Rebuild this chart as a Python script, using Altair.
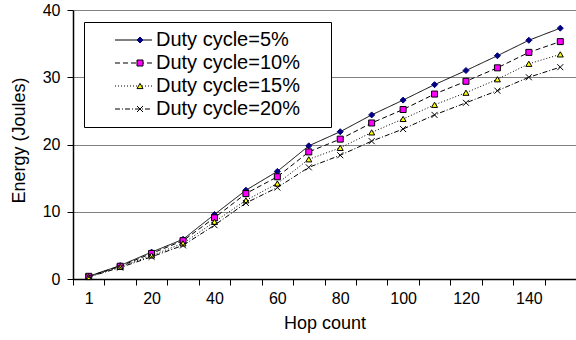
import altair as alt
import pandas as pd

hops = ["1", "10", "20", "30", "40", "50", "60", "70", "80", "90",
        "100", "110", "120", "130", "140", "150"]
x_tick_labels = ["1", "20", "40", "60", "80", "100", "120", "140"]
series = ["Duty cycle=5%", "Duty cycle=10%", "Duty cycle=15%", "Duty cycle=20%"]

dc5 = [0.4, 2.0, 4.0, 5.9, 9.6, 13.2, 16.0, 19.8, 21.9, 24.4, 26.6, 28.9, 31.0, 33.2, 35.5, 37.3]
dc10 = [0.4, 1.9, 3.8, 5.7, 9.1, 12.7, 15.2, 18.9, 20.8, 23.2, 25.2, 27.5, 29.4, 31.4, 33.7, 35.3]
dc15 = [0.3, 1.8, 3.5, 5.3, 8.5, 11.7, 14.2, 17.8, 19.5, 21.8, 23.8, 25.9, 27.7, 29.7, 32.0, 33.4]
dc20 = [0.3, 1.7, 3.3, 5.0, 8.0, 11.3, 13.6, 16.6, 18.4, 20.5, 22.3, 24.4, 26.2, 28.0, 30.0, 31.5]

y_ticks = [0, 10, 20, 30, 40]

marker_shapes = ["diamond", "square", "triangle-up", "M-1,-1L1,1M-1,1L1,-1"]
marker_fills = ["#000080", "#FF00FF", "#FFFF00", "#000000"]
marker_strokes = ["#000080", "#000000", "#000000", "#000000"]
line_dashes = [[1, 0], [5, 3], [1, 2], [5, 2, 1, 2]]

rows = []
for name, vals in zip(series, [dc5, dc10, dc15, dc20]):
    for h, v in zip(hops, vals):
        rows.append({"hop": h, "energy": v, "series": name, "marker": name})
df = pd.DataFrame(rows)

FONT = "Liberation Sans, Arial, Helvetica, sans-serif"
PAD = "    \u200b"

x_enc = alt.X(
    "hop:O",
    sort=hops,
    bandPosition=0.5,
    scale=alt.Scale(type="band", domain=hops, paddingInner=0, paddingOuter=0),
    axis=alt.Axis(
        title="Hop count",
        tickBand="extent",
        labelExpr="indexof(" + str(x_tick_labels) + ", datum.label) >= 0 ? datum.label : ''",
        labelAngle=0,
        labelOverlap=False,
        labelPadding=5,
        tickSize=6,
        titleBaseline="alphabetic",
        titleY=49,
        grid=False,
    ),
)
y_enc = alt.Y(
    "energy:Q",
    scale=alt.Scale(domain=[0, 40], nice=False),
    axis=alt.Axis(
        title="Energy (Joules)",
        values=y_ticks,
        grid=True,
        gridColor="#808080",
        gridWidth=1,
        tickSize=6,
        labelPadding=7,
        titleAngle=270,
        titleX=-54,
        titleY=130,
        titleAlign="center",
        titleBaseline="middle",
    ),
)

legend_lines = alt.Legend(
    title=None,
    orient="none",
    legendX=11,
    legendY=12,
    padding=8,
    fillColor="white",
    strokeColor="black",
    symbolType="stroke",
    symbolSize=1369,
    symbolStrokeColor="black",
    symbolStrokeWidth=1,
    symbolOffset=22.5,
    labelOffset=3.5,
    labelFontSize=20,
    labelFont=FONT,
    labelColor="black",
    labelLimit=400,
    labelExpr="datum.label + '" + PAD + "'",
    clipHeight=20,
    rowPadding=3,
    zindex=1,
)

lines = alt.Chart(df).mark_line(color="black", strokeWidth=1).encode(
    x=x_enc,
    y=y_enc,
    strokeDash=alt.StrokeDash(
        "series:N",
        sort=series,
        scale=alt.Scale(domain=series, range=line_dashes),
        legend=legend_lines,
    ),
)

point_layers = []
for i, name in enumerate(series):
    leg = alt.Legend(
        title=None,
        orient="none",
        legendX=11,
        legendY=12 + 23 * i,
        padding=8,
        symbolSize=36,
        symbolStrokeWidth=1,
        symbolOpacity=1,
        symbolOffset=38,
        labelOffset=3.5,
        labelFontSize=20,
        labelFont=FONT,
        labelExpr="' '",
        clipHeight=20,
        zindex=2,
    )
    layer = (
        alt.Chart(df)
        .transform_filter(alt.datum.marker == name)
        .mark_point(
            filled=True,
            size=36,
            fill=marker_fills[i],
            stroke=marker_strokes[i],
            strokeWidth=1,
            opacity=1,
        )
        .encode(
            x=x_enc,
            y=y_enc,
            shape=alt.Shape(
                "marker:N",
                scale=alt.Scale(domain=[name], range=[marker_shapes[i]]),
                legend=leg,
            ),
        )
    )
    point_layers.append(layer)

chart = (
    alt.layer(lines, *point_layers)
    .resolve_scale(shape="independent")
    .properties(
        width=503,
        height=269,
        autosize=alt.AutoSizeParams(type="none"),
        padding={"left": 73, "top": 10, "right": 0, "bottom": 61},
        background="white",
    )
    .configure_view(stroke=None)
    .configure_axis(
        labelFont=FONT,
        titleFont=FONT,
        labelFontSize=16,
        titleFontSize=18,
        titleFontWeight="normal",
        labelColor="black",
        titleColor="black",
        domainColor="black",
        domainWidth=1.5,
        tickColor="black",
        tickWidth=1,
    )
)

chart.save("out.html", embed_options={"renderer": "svg", "actions": False})
